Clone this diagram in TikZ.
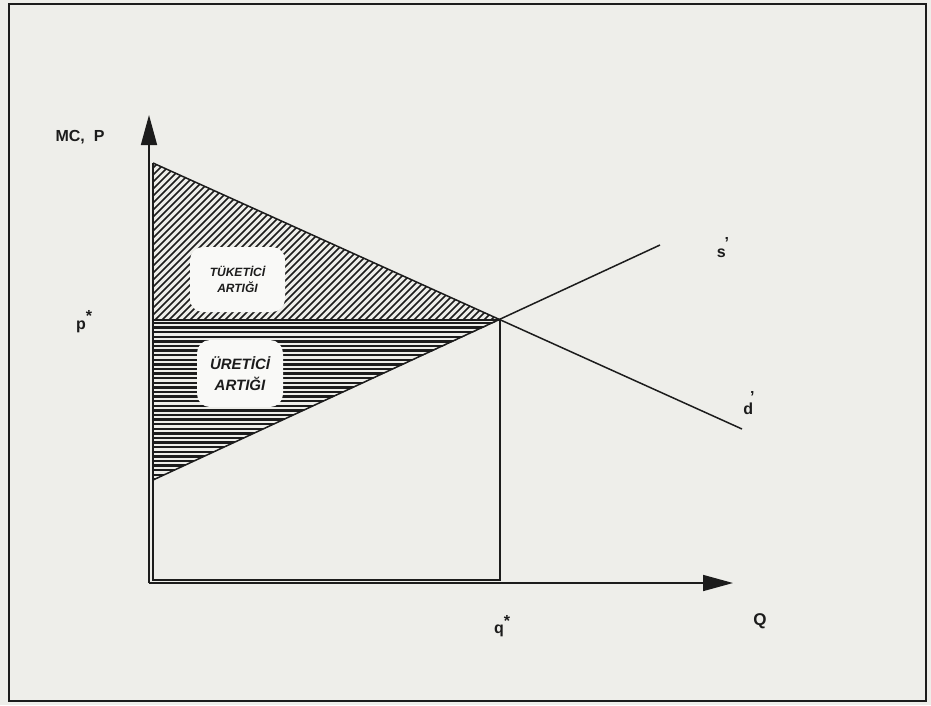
\documentclass[tikz,border=0pt]{standalone}
\usepackage{fontspec}
\setmainfont{Liberation Sans}
\usetikzlibrary{arrows.meta}
\definecolor{paper}{RGB}{238,238,234}
\definecolor{boxc}{RGB}{249,249,247}
\definecolor{ink}{RGB}{28,28,28}
\begin{document}
\begin{tikzpicture}[x=1pt,y=-1pt,
  axis/.style={ink,line width=1.6pt,-{Triangle[length=30pt,width=16pt]}},
  curve/.style={ink,line width=1.5pt},
  thin/.style={ink,line width=1.3pt},
  hatchline/.style={ink,line width=1.7pt},
  hline/.style={ink,line width=2.4pt},
  areabox/.style={fill=boxc,rounded corners=13pt,inner sep=0pt,align=center,text=ink},
  lab/.style={text=ink,inner sep=0pt,font=\fontsize{16}{18}\selectfont\bfseries}]
\useasboundingbox (0,0) rectangle (931,705);
\fill[paper] (0,0) rectangle (931,705);
\draw[ink,line width=2pt] (9,4) rectangle (926,701);
% key points
\coordinate (O) at (149,583);
\coordinate (Ytop) at (149,115);
\coordinate (Xend) at (733,583);
\coordinate (A) at (153,163);
\coordinate (E) at (500,320);
\coordinate (P) at (153,320);
\coordinate (B) at (153,480);
\coordinate (Sx) at (660,245);
\coordinate (Dx) at (742,429);
\coordinate (Qb) at (500,580);
\coordinate (Ob) at (153,580);
% consumer surplus hatching
\begin{scope}
  \clip (A) -- (E) -- (P) -- cycle;
  \foreach \c in {300,307,...,840} \draw[hatchline] (100,\c-100) -- (600,\c-600);
\end{scope}
% producer surplus hatching
\begin{scope}
  \clip (P) -- (E) -- (B) -- cycle;
  \foreach \y in {323,327.6,...,484} \draw[hline] (140,\y) -- (520,\y);
\end{scope}
% frame lines of the areas
\draw[thin] (A) -- (Ob) -- (Qb) -- (E);
\draw[ink,line width=2pt] (P) -- (E);
% curves
\draw[curve] (B) -- (Sx);
\draw[curve] (A) -- (Dx);
% axes
\draw[axis] (O) -- (Ytop);
\draw[axis] (O) -- (Xend);
% area labels
\node[areabox,minimum width=95pt,minimum height=65pt,
  font=\fontsize{12}{16}\selectfont\bfseries\itshape] (tuk) at (237.5,279.5) {TÜKETİCİ\\ARTIĞI};
\node[areabox,minimum width=86pt,minimum height=67pt,
  font=\fontsize{15}{21}\selectfont\bfseries\itshape] (ure) at (240,373.5) {ÜRETİCİ\\ARTIĞI};
% axis labels
\node[lab] (mcp) at (80,137) {MC,\hspace{9pt}P};
\node[lab] (pst) at (84,322) {p\raisebox{8pt}{*}};
\node[lab] (qst) at (502,626) {q\raisebox{7pt}{*}};
\node[lab,font=\fontsize{17}{19}\selectfont\bfseries] (qlab) at (760,621) {Q};
\node[lab] (slab) at (723,248) {s\raisebox{9pt}{\kern-1pt'}};
\node[lab] (dlab) at (749,403) {d\raisebox{12pt}{\kern-3pt'}};
\end{tikzpicture}
\end{document}
